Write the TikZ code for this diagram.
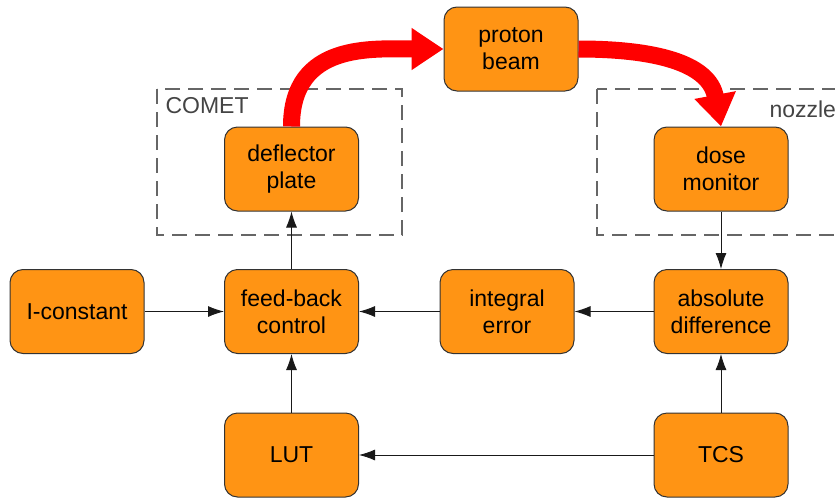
\documentclass[tikz,border=0pt]{standalone}
\usepackage{fontspec}
\setmainfont{Liberation Sans}
\usepackage{xcolor}
\definecolor{boxorange}{RGB}{255, 148, 20}
\definecolor{framegray}{RGB}{102, 102, 102}
\definecolor{labelgray}{RGB}{68, 68, 68}
\usepackage{tikz}
\usetikzlibrary{arrows.meta, calc}

\begin{document}
\begin{tikzpicture}[x=1pt, y=1pt,
    block/.style={draw=black!80, line width=1pt, fill=boxorange, rounded corners=13pt,
      minimum width=134pt, minimum height=84pt, align=center,
      font=\fontsize{23}{27}\selectfont},
    link/.style={black!90, line width=0.9pt, -{Latex[length=16pt, width=11pt]}},
    beamarrow/.style={red, line width=17pt, -{Triangle[length=32pt, width=40pt]}},
    group/.style={framegray, line width=1.2pt, dash pattern=on 15pt off 8pt},
    grouplabel/.style={labelgray, font=\fontsize{23}{27}\selectfont}]
  \useasboundingbox (0,0) rectangle (835,-498);
  % groups
  \draw[group] (157,-89) rectangle (402,-235);
  \draw[group] (597,-89) rectangle (870,-235);
  \node[grouplabel, anchor=base west] (comet) at (162,-113) {COMET};
  \node[grouplabel, anchor=base west] (nozzle) at (766,-117) {nozzle};
  % blocks
  \node[block] (beam)    at (511,-49)    {proton\\beam};
  \node[block] (defl)    at (291.5,-169) {deflector\\plate};
  \node[block] (dose)    at (721,-169)   {dose\\monitor};
  \node[block] (iconst)  at (77,-311.5)  {I-constant};
  \node[block] (fb)      at (291.5,-311.5) {feed-back\\control};
  \node[block] (interr)  at (507,-311.5) {integral\\error};
  \node[block] (absdiff) at (721,-311.5) {absolute\\difference};
  \node[block] (lut)     at (291.5,-455) {LUT};
  \node[block] (tcs)     at (721,-455)   {TCS};
  % beam path
  \draw[beamarrow] (defl.north) .. controls +(0,85) and +(-70,0) .. (beam.west);
  \draw[beamarrow] (beam.east) .. controls +(75,0) and +(-12,64) .. (dose.north);
  % signal path
  \draw[link] (fb) -- (defl);
  \draw[link] (iconst) -- (fb);
  \draw[link] (interr) -- (fb);
  \draw[link] (absdiff) -- (interr);
  \draw[link] (dose) -- (absdiff);
  \draw[link] (tcs) -- (absdiff);
  \draw[link] (tcs) -- (lut);
  \draw[link] (lut) -- (fb);
\end{tikzpicture}
\end{document}
